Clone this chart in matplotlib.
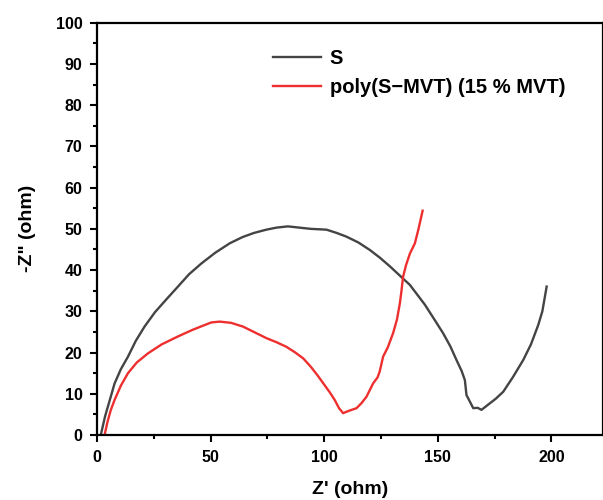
import numpy as np
import matplotlib
matplotlib.use("Agg")
import matplotlib.pyplot as plt
from matplotlib.ticker import MultipleLocator

plt.rcParams['font.family'] = ['Liberation Sans', 'DejaVu Sans']
plt.rcParams['font.weight'] = 'bold'

# S
s_x = [1.8, 3.5, 5.5, 7.7, 10.5, 13.6, 17.0, 20.9, 25.5, 30.5, 35.6, 40.5, 45.9, 52.0, 58.4,
       64.0, 69.0, 74.5, 79.0, 84.0, 89.0, 94.0, 101.0, 105.5, 109.8, 115.0, 120.0, 124.5,
       128.9, 133.0, 137.7, 141.0, 144.3, 148.5, 152.3, 155.5, 158.2, 160.5, 161.9, 162.6,
       164.0, 165.6, 167.5, 169.2, 172.0, 175.5, 178.8, 183.0, 187.6, 191.0, 194.2, 196.0, 197.9]
s_y = [0.4, 4.5, 8.3, 12.5, 16.0, 19.0, 22.8, 26.3, 29.8, 32.9, 36.0, 39.0, 41.6, 44.2, 46.5,
       48.0, 49.0, 49.8, 50.3, 50.6, 50.3, 50.0, 49.8, 49.0, 48.1, 46.7, 44.9, 43.0,
       40.9, 38.8, 36.4, 34.0, 31.6, 28.0, 24.7, 21.5, 18.2, 15.5, 13.3, 9.7,
       8.2, 6.5, 6.6, 6.1, 7.3, 8.8, 10.5, 14.0, 18.2, 22.0, 26.7, 30.0, 36.0]

# poly(S-MVT)
p_x = [3.3, 4.5, 6.0, 7.7, 10.5, 13.6, 17.5, 22.4, 28.5, 35.6, 42.0, 47.0, 50.3, 54.0, 59.0,
       64.2, 69.0, 74.5, 79.0, 83.3, 87.0, 90.7, 94.0, 97.0, 100.0, 102.5, 104.6, 106.5, 108.3,
       111.0, 114.2, 116.5, 118.6, 121.5, 123.5, 124.4, 125.9, 128.0, 130.3, 132.0, 133.3,
       134.0, 134.7, 136.0, 137.7, 139.9, 141.5, 143.3]
p_y = [0.0, 3.0, 6.0, 8.5, 12.0, 15.0, 17.6, 19.8, 22.0, 23.9, 25.5, 26.6, 27.3, 27.5, 27.2,
       26.3, 25.0, 23.5, 22.5, 21.4, 20.1, 18.6, 16.6, 14.5, 12.2, 10.3, 8.5, 6.5, 5.3,
       5.9, 6.5, 7.8, 9.3, 12.5, 14.0, 15.4, 19.0, 21.3, 24.7, 28.0, 32.0,
       35.0, 38.4, 41.2, 44.0, 46.5, 50.0, 54.4]

fig = plt.figure(figsize=(6.03, 5.0), dpi=100)
ax = fig.add_axes([0.161, 0.13, 0.839, 0.8246])

ax.plot(s_x, s_y, color='#444444', lw=1.7, label='S')
ax.plot(p_x, p_y, color='#ee2f2f', lw=1.7, label='poly(S\u2212MVT) (15 % MVT)')

ax.set_xlim(0, 222.7)
ax.set_ylim(0, 100)
ax.xaxis.set_major_locator(MultipleLocator(50))
ax.xaxis.set_minor_locator(MultipleLocator(25))
ax.yaxis.set_major_locator(MultipleLocator(10))
ax.yaxis.set_minor_locator(MultipleLocator(5))
ax.tick_params(which='major', direction='out', length=5, width=1.5, labelsize=11.5, pad=5.5)
ax.tick_params(which='minor', direction='out', length=3, width=1.5)
for sp in ax.spines.values():
    sp.set_linewidth(1.6)

ax.set_xlabel("Z' (ohm)", fontsize=14, fontweight='bold', labelpad=12)
ax.set_ylabel('-Z" (ohm)', fontsize=14, fontweight='bold', labelpad=14)

ax.legend(loc='upper left', bbox_to_anchor=(0.348, 0.935), frameon=False, fontsize=14.5,
          handlelength=2.4, handletextpad=0.4, labelspacing=0.45, borderaxespad=0,
          borderpad=0)

plt.savefig('out.png', dpi=100)
